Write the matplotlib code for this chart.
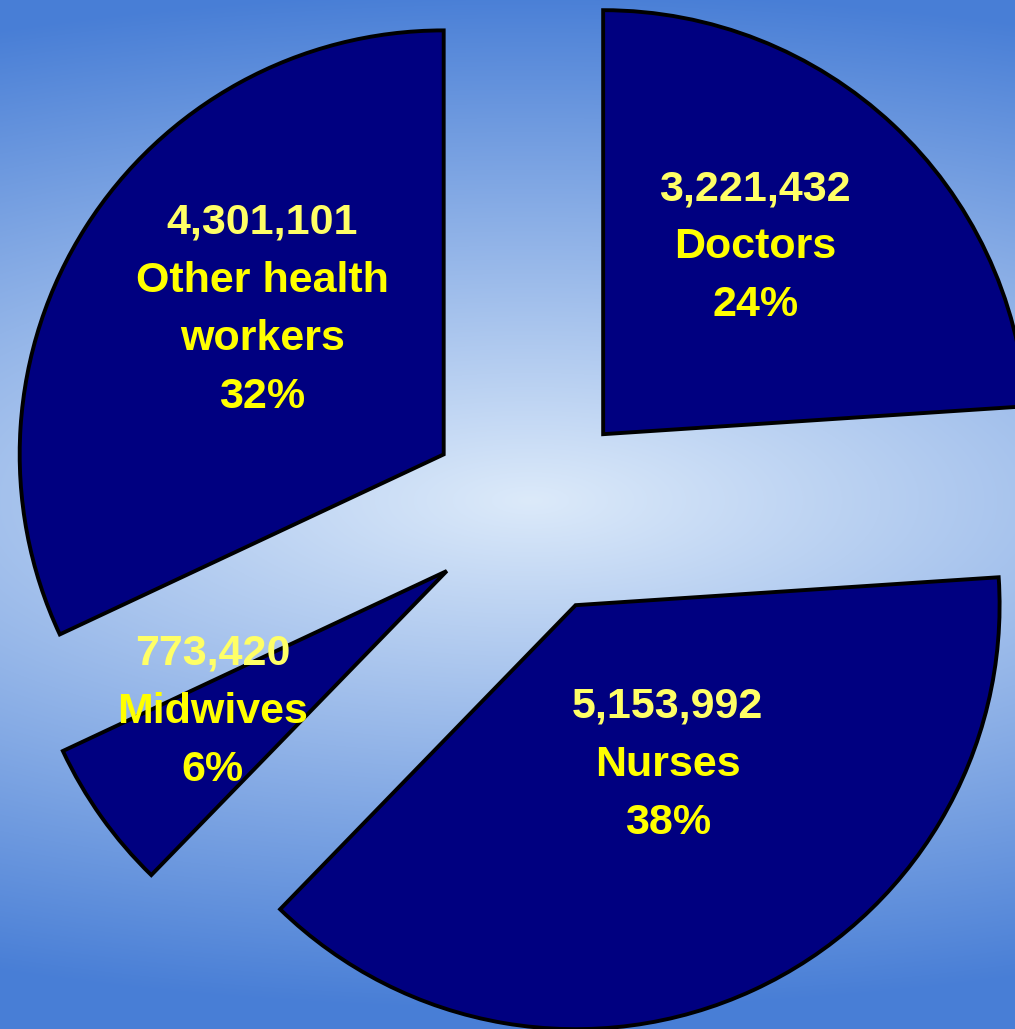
import numpy as np
import matplotlib
matplotlib.use("Agg")
import matplotlib.pyplot as plt

plt.rcParams['font.family'] = ['Liberation Sans', 'DejaVu Sans']

# data
groups = ["Doctors", "Nurses", "Midwives", "Other health\nworkers"]
counts = [3221432, 5153992, 773420, 4301101]
counts_txt = ["3,221,432", "5,153,992", "773,420", "4,301,101"]
shares = ["24%", "38%", "6%", "32%"]

# layout (pixel units, y up)
W, H = 1015, 1029
cx, cy = 531.8, H - 510.4
rad = 424
expl = 104.4
lab_dist = [0.568, 0.435, 0.644, 0.547]   # fraction of radius from the wedge tip
lab_turn = [4.0, 5.2, -4.4, -6.1]         # degrees away from mid angle
line_h = 58

fig = plt.figure(figsize=(W / 100, H / 100), dpi=100)
ax = fig.add_axes([0, 0, 1, 1])

# background: light centre fading to blue
xx, yy = np.meshgrid(np.arange(W), np.arange(H))
t = np.sqrt(((xx - 530) / 1400) ** 2 + ((yy - 500) / 510) ** 2)
t = np.clip(t, 0, 1)[..., None]
c_in = np.array([220, 234, 250]) / 255
c_out = np.array([72, 126, 214]) / 255
bg = c_in * (1 - t) + c_out * t
ax.imshow(bg, extent=(0, W, 0, H), origin='upper', zorder=0, aspect='auto')

wedges, _ = ax.pie(counts, explode=[expl] * 4, radius=rad, center=(cx, cy),
                   startangle=90, counterclock=False, colors=['#000080'] * 4,
                   wedgeprops=dict(edgecolor='black', linewidth=2.8, joinstyle='miter'))
for w in wedges:
    w.set_zorder(2)

for i, w in enumerate(wedges):
    mid = np.deg2rad((w.theta1 + w.theta2) / 2)
    tipx, tipy = w.center
    ang = mid + np.deg2rad(lab_turn[i])
    lx = tipx + rad * lab_dist[i] * np.cos(ang)
    ly = tipy + rad * lab_dist[i] * np.sin(ang)
    lines = [(counts_txt[i], '#ffff66')]
    lines += [(s, '#ffff00') for s in groups[i].split("\n")]
    lines += [(shares[i], '#ffff00')]
    n = len(lines)
    for k, (s, col) in enumerate(lines):
        yk = ly + (n - 1) / 2 * line_h - k * line_h
        ax.text(lx, yk, s, ha='center', va='center', fontsize=31,
                fontweight='bold', color=col, zorder=3)

ax.set_xlim(0, W)
ax.set_ylim(0, H)
ax.set_aspect('auto')
ax.axis('off')

fig.savefig("out.png", dpi=100)
